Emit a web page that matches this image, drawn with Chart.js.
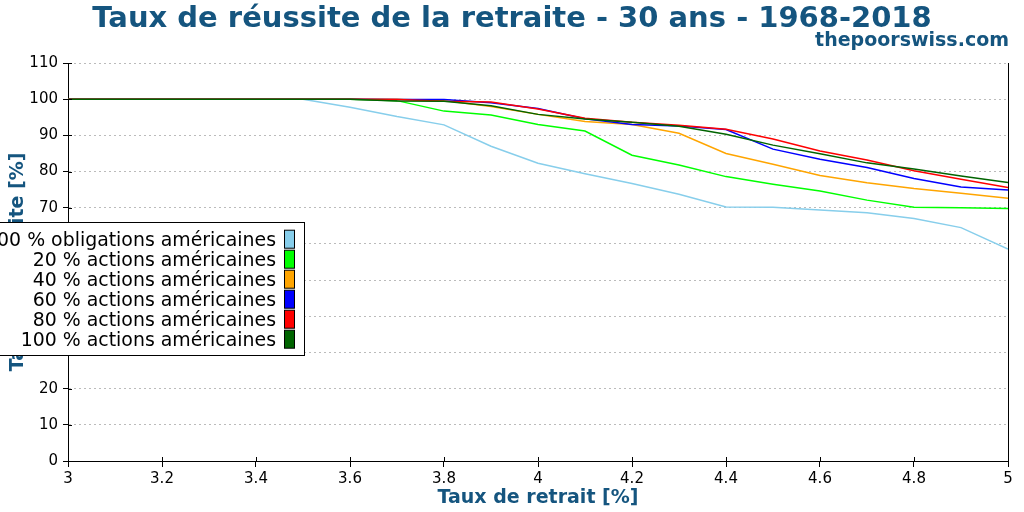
<!DOCTYPE html>
<html>
<head>
<meta charset="utf-8">
<script src="https://cdn.jsdelivr.net/npm/chart.js@4.4.1/dist/chart.umd.min.js"></script>
<style>
html,body{margin:0;padding:0;background:#fff;}
#wrap{width:1024px;height:512px;position:relative;}
</style>
</head>
<body>
<div id="wrap"><canvas id="c"></canvas></div>
<script>
const TITLE = 'Taux de réussite de la retraite - 30 ans - 1968-2018';
const SITE = 'thepoorswiss.com';
const X_TITLE = 'Taux de retrait [%]';
const Y_TITLE = 'Taux de réussite [%]';

const rates = [3.0,3.1,3.2,3.3,3.4,3.5,3.6,3.7,3.8,3.9,4.0,4.1,4.2,4.3,4.4,4.5,4.6,4.7,4.8,4.9,5.0];

const bonds100 = [100,100,100,100,100,100,97.8,95.2,92.9,87.0,82.3,79.4,76.7,73.7,70.2,70.1,69.4,68.6,67.0,64.5,58.6];
const stocks20 = [100,100,100,100,100,100,100,99.6,96.7,95.6,93.0,91.2,84.5,81.8,78.6,76.5,74.6,72.1,70.1,70.0,69.8];
const stocks40 = [100,100,100,100,100,100,100,100,99.6,98.0,95.8,93.8,93.0,90.6,85.0,82.0,78.9,76.9,75.3,74.0,72.6];
const stocks60 = [100,100,100,100,100,100,100,99.9,99.9,99.0,97.4,94.6,93.0,92.6,91.6,86.2,83.4,81.1,78.1,75.7,74.9];
const stocks80 = [100,100,100,100,100,100,100,99.9,99.4,99.2,97.3,94.7,93.6,92.8,91.7,89.0,85.7,83.2,80.2,77.9,75.6];
const stocks100 = [100,100,100,100,100,100,100,99.5,99.4,98.2,95.8,94.5,93.6,92.5,90.3,87.3,84.9,82.4,80.7,78.8,77.0];

const seriesLabels = [
  '100 % obligations américaines',
  '20 % actions américaines',
  '40 % actions américaines',
  '60 % actions américaines',
  '80 % actions américaines',
  '100 % actions américaines'
];
const seriesValues = [bonds100, stocks20, stocks40, stocks60, stocks80, stocks100];
const seriesColors = ['#87ceeb', '#00ff00', '#ffa500', '#0000ff', '#ff0000', '#006400'];

const TITLE_COLOR = '#15557f';
const FONT = '"DejaVu Sans", sans-serif';

const datasets = seriesValues.map((vals, i) => ({
  label: seriesLabels[i],
  data: rates.map((r, j) => ({x: r, y: vals[j]})),
  borderColor: seriesColors[i],
  backgroundColor: seriesColors[i],
  borderWidth: 1.5,
  pointRadius: 0,
  tension: 0,
  fill: false,
  order: seriesValues.length - i
}));

const decor = {
  id: 'decor',
  afterDraw(chart) {
    const ctx = chart.ctx;
    const xs = chart.scales.x, ys = chart.scales.y;
    ctx.save();
    // inner tick marks
    ctx.strokeStyle = '#000';
    ctx.lineWidth = 1;
    ctx.beginPath();
    ys.ticks.forEach(t => {
      const y = Math.round(ys.getPixelForValue(t.value)) + 0.5;
      ctx.moveTo(xs.left, y); ctx.lineTo(xs.left + 4, y);
    });
    xs.ticks.forEach(t => {
      const x = Math.round(xs.getPixelForValue(t.value)) + 0.5;
      ctx.moveTo(x, ys.bottom); ctx.lineTo(x, ys.bottom - 4);
    });
    ctx.stroke();

    // titles
    ctx.fillStyle = TITLE_COLOR;
    ctx.textBaseline = 'alphabetic';
    ctx.font = 'bold 29px ' + FONT;
    ctx.textAlign = 'center';
    ctx.fillText(TITLE, chart.width / 2, 27);
    ctx.font = 'bold 19px ' + FONT;
    ctx.textAlign = 'right';
    ctx.fillText(SITE, 1009, 46);

    // legend box
    const boxL = -5, boxR = 304.5, boxT = 222.5, boxB = 355.5;
    ctx.fillStyle = '#fff';
    ctx.fillRect(boxL, boxT, boxR - boxL, boxB - boxT);
    ctx.strokeStyle = '#000';
    ctx.lineWidth = 1;
    ctx.strokeRect(boxL, boxT, boxR - boxL, boxB - boxT);
    ctx.font = '18.9px ' + FONT;
    ctx.textAlign = 'right';
    chart.data.datasets.forEach((ds, i) => {
      const base = 245.7 + i * 20;
      ctx.fillStyle = '#000';
      ctx.fillText(ds.label, 276, base);
      ctx.fillStyle = ds.borderColor;
      ctx.fillRect(284.5, base - 15.5, 10, 18);
      ctx.strokeStyle = '#000';
      ctx.strokeRect(284.5, base - 15.5, 10, 18);
    });
    ctx.restore();
  }
};

new Chart(document.getElementById('c'), {
  type: 'line',
  data: { datasets },
  options: {
    responsive: true,
    maintainAspectRatio: false,
    animation: false,
    locale: 'en-US',
    layout: { padding: { top: 63, left: 0, right: 0, bottom: 0 } },
    plugins: {
      legend: { display: false },
      tooltip: { enabled: false },
      title: { display: false }
    },
    scales: {
      x: {
        type: 'linear',
        min: 3, max: 5,
        ticks: {
          stepSize: 0.2, color: '#000', font: { family: FONT, size: 15 }, padding: 3, maxRotation: 0,
          callback: v => String(Math.round(v * 10) / 10)
        },
        grid: { display: true, drawOnChartArea: false, tickLength: 6, tickColor: '#000' },
        border: { display: true, color: '#000', width: 1 },
        title: { display: true, text: X_TITLE, color: TITLE_COLOR, font: { family: FONT, size: 19, weight: 'bold' }, padding: { top: 0, bottom: 3 } },
        afterFit(s) { s.height = 51; }
      },
      y: {
        min: 0, max: 110,
        ticks: { stepSize: 10, color: '#000', font: { family: FONT, size: 15 }, padding: 5 },
        grid: { display: true, color: '#bbbbbb', lineWidth: 1, tickLength: 5, tickColor: '#000' },
        border: { display: true, color: '#000', width: 1, dash: [2, 3] },
        title: { display: true, text: Y_TITLE, color: TITLE_COLOR, font: { family: FONT, size: 19, weight: 'bold' }, padding: { top: 7, bottom: 0 } },
        afterFit(s) { s.width = 68; }
      },
      y2: {
        position: 'right',
        min: 0, max: 110,
        ticks: { display: false },
        grid: { display: true, drawOnChartArea: false, drawTicks: false },
        border: { display: true, color: '#000', width: 1 },
        afterFit(s) { s.width = 16; }
      }
    }
  },
  plugins: [decor]
});
</script>
</body>
</html>
